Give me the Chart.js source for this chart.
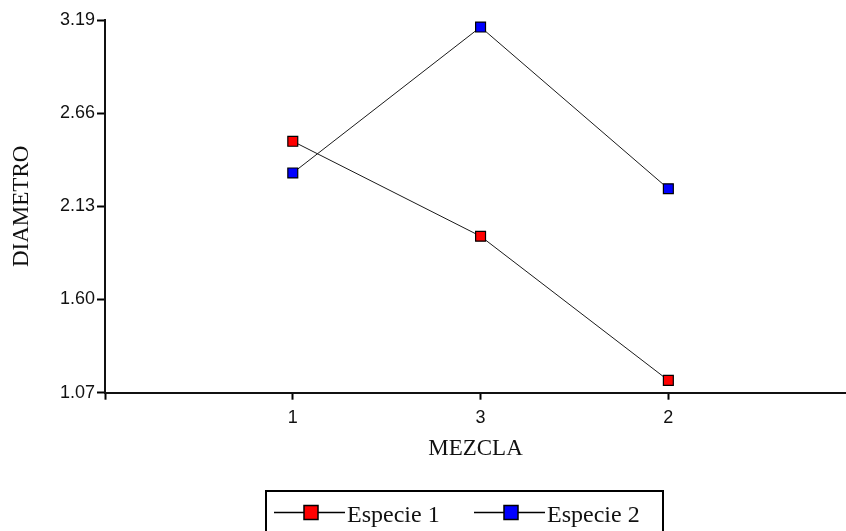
<!DOCTYPE html>
<html>
<head>
<meta charset="utf-8">
<script src="https://cdn.jsdelivr.net/npm/chart.js@4/dist/chart.umd.min.js"></script>
<style>
  html, body { margin: 0; padding: 0; background: #ffffff; }
  canvas { display: block; }
</style>
</head>
<body>
<canvas id="c" width="846" height="531"></canvas>
<script>
// Mean diameter per mixture for each species
const categories = ['1', '3', '2'];
const especie1 = [2.50, 1.96, 1.14];
const especie2 = [2.32, 3.15, 2.23];
const yTicks = [1.07, 1.60, 2.13, 2.66, 3.19];
const seriesNames = ['Especie 1', 'Especie 2'];
const seriesColors = ['#ff0000', '#0000ff'];

const toPoints = vals => vals.map((v, i) => ({ x: i + 1, y: v }));

const serif = '"Liberation Serif", "Times New Roman", serif';
const sans = '"Liberation Sans", Arial, sans-serif';

// Framed legend below the plot: line - square marker - line, then the name
const boxLegend = {
  id: 'boxLegend',
  afterDraw(chart) {
    const ctx = chart.ctx;
    ctx.save();
    ctx.strokeStyle = '#000';
    ctx.lineWidth = 2;
    ctx.strokeRect(266, 491, 397, 60);
    const starts = [274, 474];
    chart.data.datasets.forEach((ds, i) => {
      const x0 = starts[i], y = 512.5;
      ctx.strokeStyle = '#000';
      ctx.lineWidth = 1.3;
      ctx.beginPath();
      ctx.moveTo(x0, y);
      ctx.lineTo(x0 + 71, y);
      ctx.stroke();
      ctx.fillStyle = ds.pointBackgroundColor;
      ctx.fillRect(x0 + 30, y - 7, 14, 14);
      ctx.lineWidth = 1.5;
      ctx.strokeRect(x0 + 30, y - 7, 14, 14);
      ctx.fillStyle = '#111';
      ctx.font = '24px ' + serif;
      ctx.textBaseline = 'alphabetic';
      ctx.textAlign = 'left';
      ctx.fillText(ds.label, x0 + 73, 522);
    });
    ctx.restore();
  }
};

const makeSet = (label, vals, color) => ({
  label,
  data: toPoints(vals),
  borderColor: '#1a1a1a',
  borderWidth: 1,
  pointStyle: 'rect',
  pointRadius: 7,
  pointHoverRadius: 7,
  pointBackgroundColor: color,
  pointBorderColor: '#000',
  pointBorderWidth: 1.2,
  tension: 0,
  fill: false
});

new Chart(document.getElementById('c'), {
  type: 'line',
  data: {
    datasets: [
      makeSet(seriesNames[0], especie1, seriesColors[0]),
      makeSet(seriesNames[1], especie2, seriesColors[1])
    ]
  },
  options: {
    responsive: false,
    animation: false,
    events: [],
    layout: { autoPadding: false, padding: { left: 0, top: 20, right: 0, bottom: 0 } },
    plugins: {
      legend: { display: false },
      tooltip: { enabled: false }
    },
    scales: {
      x: {
        type: 'linear',
        min: 0,
        max: 3.946,
        afterFit: s => { s.height = 138.3; },
        afterBuildTicks: s => { s.ticks = [0, 1, 2, 3].map(v => ({ value: v })); },
        ticks: {
          color: '#111',
          font: { family: sans, size: 18 },
          padding: 8,
          maxRotation: 0,
          autoSkip: false,
          callback: v => (v >= 1 && v <= categories.length ? categories[v - 1] : '')
        },
        grid: { drawOnChartArea: false, drawTicks: true, tickLength: 7, tickColor: '#000', tickWidth: 2 },
        border: { display: true, color: '#111', width: 2 },
        title: {
          display: true,
          text: 'MEZCLA',
          color: '#111',
          font: { family: serif, size: 23 },
          padding: { top: 0, bottom: 68 }
        }
      },
      y: {
        type: 'linear',
        min: yTicks[0],
        max: yTicks[yTicks.length - 1],
        afterFit: s => { s.width = 105; },
        afterBuildTicks: s => { s.ticks = yTicks.map(v => ({ value: v })); },
        ticks: {
          color: '#111',
          font: { family: sans, size: 18 },
          padding: 2,
          callback: v => Number(v).toFixed(2)
        },
        grid: { drawOnChartArea: false, drawTicks: true, tickLength: 8, tickColor: '#000', tickWidth: 2 },
        border: { display: true, color: '#111', width: 2 },
        title: {
          display: true,
          text: 'DIAMETRO',
          color: '#111',
          font: { family: serif, size: 23 },
          padding: { top: 8, bottom: 0 }
        }
      }
    }
  },
  plugins: [boxLegend]
});
</script>
</body>
</html>
